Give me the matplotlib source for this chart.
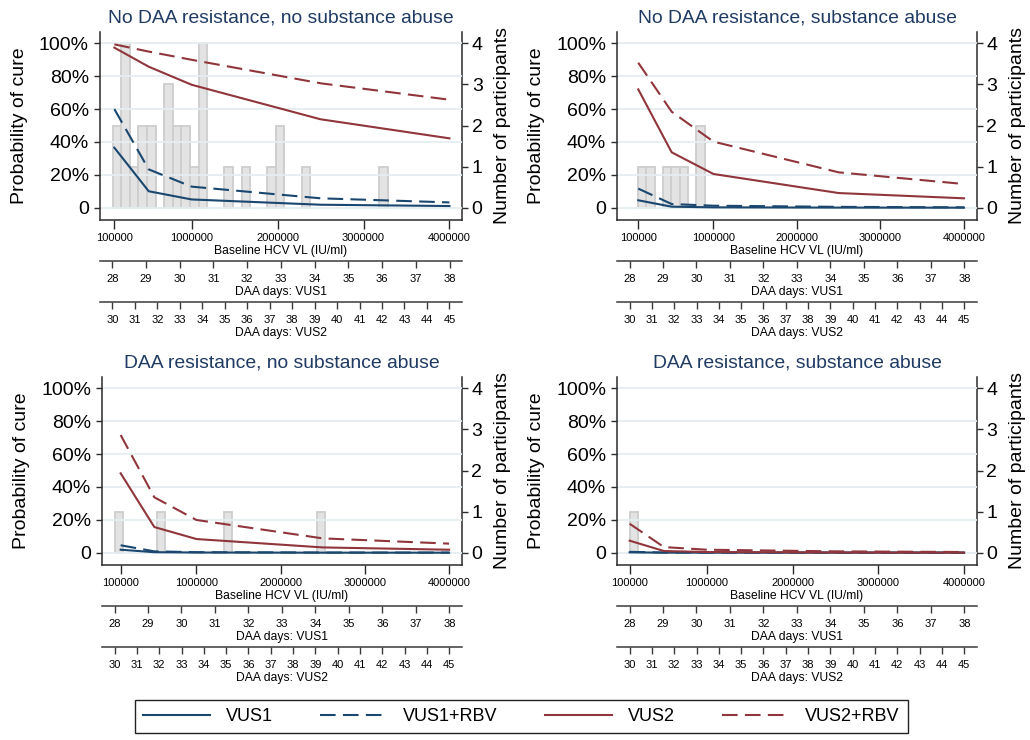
import matplotlib
matplotlib.use("Agg")
import matplotlib.pyplot as plt
from matplotlib import font_manager

# ---------------- data ----------------
titles = ["No DAA resistance, no substance abuse",
          "No DAA resistance, substance abuse",
          "DAA resistance, no substance abuse",
          "DAA resistance, substance abuse"]

vl_points = [100000, 500000, 1000000, 2500000, 4000000]

# probability of cure (%) per panel
vus1 = [[36.5, 10.0, 5.0, 1.8, 1.0],
        [4.5, 0.6, 0.2, 0.05, 0.0],
        [1.8, 0.3, 0.1, 0.0, 0.0],
        [0.2, 0.02, 0.0, 0.0, 0.0]]
vus1_rbv = [[60.0, 23.3, 12.8, 5.7, 3.2],
            [11.6, 2.2, 1.2, 0.5, 0.2],
            [4.5, 0.8, 0.3, 0.1, 0.05],
            [0.5, 0.1, 0.05, 0.0, 0.0]]
vus2 = [[97.4, 85.8, 74.8, 53.8, 42.2],
        [72.0, 33.7, 20.5, 8.9, 5.7],
        [48.3, 15.6, 8.3, 3.2, 1.8],
        [7.3, 1.0, 0.4, 0.1, 0.05]]
vus2_rbv = [[99.4, 95.0, 90.0, 75.7, 65.7],
            [88.2, 58.4, 40.2, 21.5, 14.4],
            [71.6, 33.7, 19.9, 8.7, 5.5],
            [17.6, 3.4, 1.8, 0.8, 0.4]]

# histogram of participants (bin start values, counts)
bin_width = 100000
bin_starts = [[80000, 180000, 280000, 380000, 480000, 680000, 780000, 880000,
               980000, 1080000, 1380000, 1580000, 1880000, 1980000, 2280000, 3180000],
              [96000, 196000, 396000, 496000, 596000, 796000],
              [28000, 528000, 1328000, 2428000],
              [100000]]
bin_counts = [[2, 4, 1, 2, 2, 3, 2, 2, 1, 4, 1, 1, 1, 2, 1, 1],
              [1, 1, 1, 1, 1, 2],
              [1, 1, 1, 1],
              [1]]

vl_ticks = [100000, 1000000, 2000000, 3000000, 4000000]
vl_ticklabels = ["100000", "1000000", "2000000", "3000000", "4000000"]
pct_ticks = [0, 20, 40, 60, 80, 100]
pct_ticklabels = ["0", "20%", "40%", "60%", "80%", "100%"]
count_ticks = [0, 1, 2, 3, 4]
days_vus1 = list(range(28, 39))
days_vus2 = list(range(30, 46))
series_labels = ["VUS1", "VUS1+RBV", "VUS2", "VUS2+RBV"]

# ---------------- style ----------------
names = {f.name for f in font_manager.fontManager.ttflist}
base_font = "Liberation Sans" if "Liberation Sans" in names else "DejaVu Sans"
legend_font = "Liberation Sans Narrow" if "Liberation Sans Narrow" in names else base_font
plt.rcParams["font.family"] = base_font

NAVY = "#1a476f"
MAROON = "#90353b"
TITLE_C = "#1f3a63"
SPINE_C = "#2b2b2b"
GRID_C = "#e5eef1"
DASH = (7.5, 3.5)

W, H = 1030, 740
fig = plt.figure(figsize=(W / 100, H / 100), dpi=100)

# panel rectangles in pixels: left, right, top, bottom
rects_px = [(100, 462, 31.7, 220),
            (617.3, 976.7, 31.7, 220),
            (102.3, 461.7, 376.7, 565),
            (617.3, 976.7, 376.7, 565)]
xlims = [(-67000, 4146000), (-151000, 4152000), (-118000, 4150000), (-44000, 4147000)]
pct_lim = (-7.5, 107.1)
cnt_lim = (pct_lim[0] * 4 / 100, pct_lim[1] * 4 / 100)

SMALL = 8.0
LAB = 8.7

handles = None
for i in range(4):
    l, r, t, b = rects_px[i]
    ax = fig.add_axes([l / W, 1 - b / H, (r - l) / W, (b - t) / H])
    axr = ax.twinx()
    ax.set_zorder(axr.get_zorder() + 1)
    ax.patch.set_visible(False)

    # histogram bars on the right axis
    axr.bar(bin_starts[i], bin_counts[i], width=bin_width, align="edge",
            color="#e3e3e3", edgecolor="#cdcdcd", linewidth=1.3, zorder=1)
    axr.set_ylim(cnt_lim)
    axr.set_yticks(count_ticks)
    axr.set_ylabel("Number of participants", fontsize=14, labelpad=8)
    axr.tick_params(axis="y", labelsize=14, length=4, width=1, pad=3, colors=SPINE_C, labelcolor="black")

    # lines
    h1, = ax.plot(vl_points, vus1[i], color=NAVY, lw=1.5, solid_joinstyle="round")
    h2, = ax.plot(vl_points, vus1_rbv[i], color=NAVY, lw=1.5, dashes=DASH)
    h3, = ax.plot(vl_points, vus2[i], color=MAROON, lw=1.5, solid_joinstyle="round")
    h4, = ax.plot(vl_points, vus2_rbv[i], color=MAROON, lw=1.5, dashes=DASH)
    if handles is None:
        handles = [h1, h2, h3, h4]

    ax.set_xlim(xlims[i])
    axr.set_xlim(xlims[i])
    ax.set_ylim(pct_lim)
    ax.set_yticks(pct_ticks)
    ax.set_yticklabels(pct_ticklabels)
    ax.set_xticks(vl_ticks)
    ax.set_xticklabels(vl_ticklabels)
    ax.yaxis.grid(True, color=GRID_C, lw=1.3)
    ax.set_axisbelow(True)
    ax.tick_params(axis="y", labelsize=14, length=4, width=1, pad=4, colors=SPINE_C, labelcolor="black")
    ax.tick_params(axis="x", labelsize=SMALL, length=6.5, width=1, pad=3, colors=SPINE_C, labelcolor="black")
    ax.set_ylabel("Probability of cure", fontsize=14, labelpad=8)
    ax.set_xlabel("Baseline HCV VL (IU/ml)", fontsize=LAB, labelpad=1)
    ax.set_title(titles[i], fontsize=13.9, color=TITLE_C, pad=6.5)

    for a in (ax, axr):
        a.spines["top"].set_visible(False)
        for s in ("left", "right", "bottom"):
            a.spines[s].set_color(SPINE_C)
            a.spines[s].set_linewidth(1.1)
    ax.spines["right"].set_visible(False)
    axr.spines["left"].set_visible(False)
    axr.spines["bottom"].set_visible(False)

    # extra day axes
    for days, lim, off, lab in ((days_vus1, (27.635, 38.37), 29.5, "DAA days: VUS1"),
                                (days_vus2, (29.447, 45.56), 59.0, "DAA days: VUS2")):
        axd = ax.twiny()
        axd.set_xlim(lim)
        axd.set_xticks(days)
        axd.xaxis.set_ticks_position("bottom")
        axd.xaxis.set_label_position("bottom")
        axd.spines["bottom"].set_position(("outward", off))
        axd.spines["bottom"].set_color("#3a3a3a")
        axd.spines["bottom"].set_linewidth(1.1)
        for s in ("top", "left", "right"):
            axd.spines[s].set_visible(False)
        axd.tick_params(axis="x", labelsize=SMALL, length=5, width=1, pad=4.5, colors="#3a3a3a", labelcolor="black")
        axd.set_xlabel(lab, fontsize=LAB, labelpad=1.5)

fig.legend(handles, series_labels, loc="upper left",
           bbox_to_anchor=(135 / W, 0, 773 / W, 1 - 700 / H), mode="expand", ncol=4,
           frameon=True, fancybox=False, edgecolor="#222222", framealpha=1,
           prop={"family": legend_font, "size": 13}, handlelength=3.7,
           handletextpad=0.9, borderaxespad=0, borderpad=0.45)
fig.legends[0].get_frame().set_linewidth(1.0)

fig.savefig("out.png", dpi=100)
